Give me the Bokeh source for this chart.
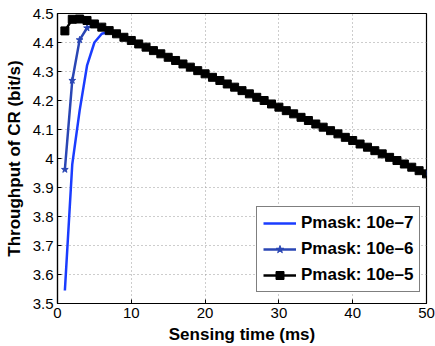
from bokeh.plotting import figure
from bokeh.models import Range1d, FixedTicker, Legend, LegendItem
from bokeh.embed import file_html
from bokeh.resources import INLINE

sensing_time = list(range(1, 51))

pmask_1e7 = [3.545, 3.980, 4.165, 4.320, 4.400, 4.430, 4.437, 4.430, 4.418, 4.407,
             4.395, 4.384, 4.372, 4.361, 4.349, 4.338, 4.326, 4.315, 4.303, 4.292,
             4.280, 4.269, 4.257, 4.246, 4.234, 4.223, 4.211, 4.200, 4.188, 4.177,
             4.165, 4.154, 4.142, 4.131, 4.119, 4.108, 4.096, 4.085, 4.073, 4.062,
             4.050, 4.039, 4.027, 4.016, 4.004, 3.993, 3.981, 3.970, 3.958, 3.947]

pmask_1e6 = [3.962, 4.269, 4.409, 4.450, 4.462, 4.453, 4.441, 4.430, 4.418, 4.407,
             4.395, 4.384, 4.372, 4.361, 4.349, 4.338, 4.326, 4.315, 4.303, 4.292,
             4.280, 4.269, 4.257, 4.246, 4.234, 4.223, 4.211, 4.200, 4.188, 4.177,
             4.165, 4.154, 4.142, 4.131, 4.119, 4.108, 4.096, 4.085, 4.073, 4.062,
             4.050, 4.039, 4.027, 4.016, 4.004, 3.993, 3.981, 3.970, 3.958, 3.947]

pmask_1e5 = [4.440, 4.480, 4.481, 4.476, 4.464, 4.453, 4.441, 4.430, 4.418, 4.407,
             4.395, 4.384, 4.372, 4.361, 4.349, 4.338, 4.326, 4.315, 4.303, 4.292,
             4.280, 4.269, 4.257, 4.246, 4.234, 4.223, 4.211, 4.200, 4.188, 4.177,
             4.165, 4.154, 4.142, 4.131, 4.119, 4.108, 4.096, 4.085, 4.073, 4.062,
             4.050, 4.039, 4.027, 4.016, 4.004, 3.993, 3.981, 3.970, 3.958, 3.947]

x_ticks = [0, 10, 20, 30, 40, 50]
y_ticks = [3.5, 3.6, 3.7, 3.8, 3.9, 4.0, 4.1, 4.2, 4.3, 4.4, 4.5]
y_tick_labels = ["3.5", "3.6", "3.7", "3.8", "3.9", "4", "4.1", "4.2", "4.3", "4.4", "4.5"]

legend_labels = ["Pmask: 10e\u20137", "Pmask: 10e\u20136", "Pmask: 10e\u20135"]
x_label = "Sensing time (ms)"
y_label = "Throughput of CR (bit/s)"

FONT = "Liberation Sans"

p = figure(width=435, height=346, output_backend="svg", toolbar_location=None,
           x_range=Range1d(0, 50), y_range=Range1d(3.5, 4.5),
           min_border_left=57, min_border_right=9, min_border_top=13, min_border_bottom=43)

p.outline_line_color = "black"
p.outline_line_width = 1.2
p.background_fill_color = "white"
p.border_fill_color = "white"

for ax in (p.xaxis[0], p.yaxis[0]):
    ax.major_tick_in = 4
    ax.major_tick_out = 0
    ax.minor_tick_line_color = None
    ax.axis_line_color = "black"
    ax.axis_line_width = 1.2
    ax.major_tick_line_color = "black"
    ax.major_label_text_font = FONT
    ax.major_label_text_font_size = "15px"
    ax.major_label_text_color = "black"
    ax.axis_label_text_font = FONT
    ax.axis_label_text_font_size = "17px"
    ax.axis_label_text_font_style = "bold"
    ax.axis_label_text_color = "black"
    ax.major_label_standoff = 4

p.xaxis[0].ticker = FixedTicker(ticks=x_ticks)
p.yaxis[0].ticker = FixedTicker(ticks=y_ticks)
p.yaxis[0].major_label_overrides = {t: l for t, l in zip(y_ticks, y_tick_labels)}
p.xaxis[0].axis_label = x_label
p.yaxis[0].axis_label = y_label
p.xaxis[0].axis_label_standoff = 4
p.yaxis[0].axis_label_standoff = 6

p.xgrid.ticker = FixedTicker(ticks=x_ticks)
p.ygrid.ticker = FixedTicker(ticks=y_ticks)
for g in (p.xgrid[0], p.ygrid[0]):
    g.grid_line_color = "#9a9a9a"
    g.grid_line_dash = "1 3"
    g.grid_line_width = 1

r1 = p.line(sensing_time, pmask_1e7, line_color="#1a3cff", line_width=2.5)
r2 = p.line(sensing_time, pmask_1e6, line_color="#2a46b4", line_width=2.5)
r2m = p.scatter(sensing_time, pmask_1e6, marker="star", size=7,
                fill_color="#2a46b4", line_color="#2a46b4")
r3 = p.line(sensing_time, pmask_1e5, line_color="black", line_width=2.5)
r3m = p.scatter(sensing_time, pmask_1e5, marker="square", size=8,
                fill_color="black", line_color="black")

legend = Legend(items=[LegendItem(label=legend_labels[0], renderers=[r1]),
                       LegendItem(label=legend_labels[1], renderers=[r2, r2m]),
                       LegendItem(label=legend_labels[2], renderers=[r3, r3m])],
                location=(199, 11), margin=0, padding=6, spacing=6,
                glyph_width=33, glyph_height=20, label_height=20, label_standoff=5,
                label_text_font=FONT, label_text_font_size="17px",
                label_text_font_style="bold", label_text_color="black",
                border_line_color="black", border_line_width=1.2,
                background_fill_color="white", background_fill_alpha=1)
p.add_layout(legend, "center")

open("out.html", "w").write(file_html(p, INLINE))
